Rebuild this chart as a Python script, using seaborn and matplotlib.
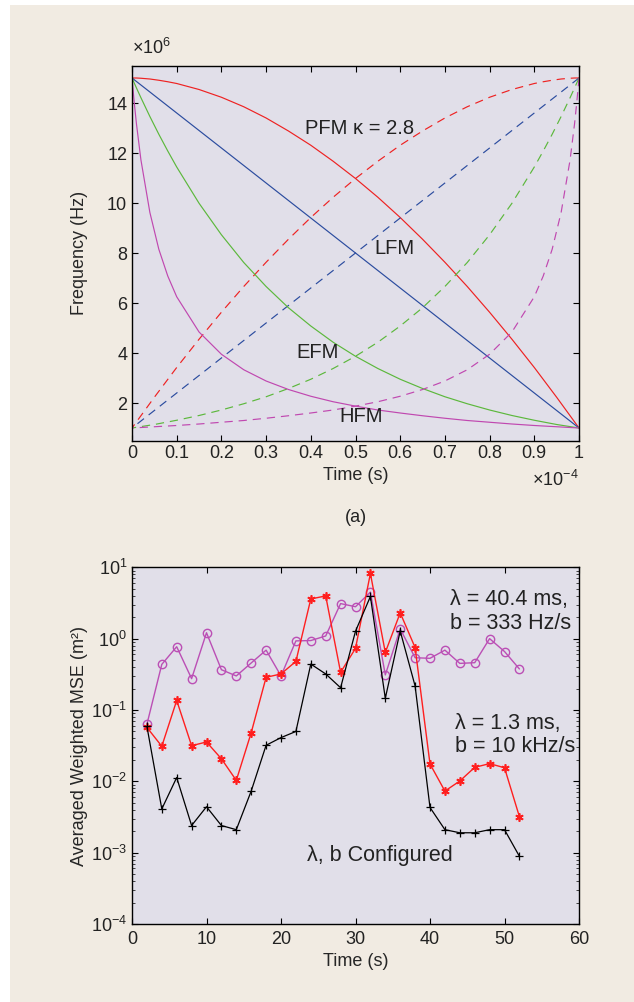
import matplotlib
matplotlib.use("Agg")
import matplotlib.pyplot as plt
import seaborn as sns
import pandas as pd
from matplotlib.patches import Rectangle
from matplotlib.ticker import LogLocator, NullFormatter

# ---------------- data: top panel (time in 1e-4 s, frequency in MHz) ----------------
t_grid = [0, 0.005, 0.01, 0.02, 0.04, 0.06, 0.08, 0.1, 0.15, 0.2, 0.25, 0.3, 0.35,
          0.4, 0.45, 0.5, 0.55, 0.6, 0.65, 0.7, 0.75, 0.8, 0.85, 0.9, 0.95, 1.0]
lfm = [15, 14.93, 14.86, 14.72, 14.44, 14.16, 13.88, 13.6, 12.9, 12.2, 11.5, 10.8, 10.1,
       9.4, 8.7, 8.0, 7.3, 6.6, 5.9, 5.2, 4.5, 3.8, 3.1, 2.4, 1.7, 1.0]
efm = [15, 14.80, 14.60, 14.21, 13.46, 12.75, 12.08, 11.44, 9.99, 8.73, 7.62, 6.66, 5.81,
       5.08, 4.43, 3.87, 3.38, 2.95, 2.58, 2.25, 1.97, 1.72, 1.50, 1.31, 1.14, 1.0]
hfm = [15, 14.02, 13.16, 11.72, 9.62, 8.15, 7.08, 6.25, 4.84, 3.95, 3.33, 2.88, 2.54,
       2.27, 2.05, 1.875, 1.72, 1.60, 1.49, 1.39, 1.30, 1.23, 1.16, 1.10, 1.05, 1.0]
pfm = [15, 15.0, 15.0, 14.99, 14.96, 14.91, 14.85, 14.78, 14.54, 14.23, 13.85, 13.40, 12.88,
       12.31, 11.67, 10.98, 10.23, 9.42, 8.55, 7.63, 6.66, 5.63, 4.55, 3.42, 2.23, 1.0]
t_up = [1 - t for t in t_grid]  # up-chirps are the time-reversed down-chirps

# ---------------- data: bottom panel ----------------
time_s = [2, 4, 6, 8, 10, 12, 14, 16, 18, 20, 22, 24, 26, 28, 30, 32, 34, 36, 38, 40,
          42, 44, 46, 48, 50, 52]
mse_404 = [0.063, 0.436, 0.77, 0.275, 1.21, 0.367, 0.30, 0.456, 0.69, 0.30, 0.93, 0.94,
           1.09, 3.1, 2.8, 4.5, 0.31, 1.37, 0.54, 0.53, 0.69, 0.45, 0.46, 1.0, 0.66, 0.376]
mse_13 = [0.057, 0.031, 0.136, 0.0316, 0.0356, 0.0207, 0.0103, 0.048, 0.287, 0.32, 0.48,
          3.6, 3.97, 0.337, 0.73, 8.2, 0.64, 2.3, 0.75, 0.0175, 0.0073, 0.0101, 0.0157,
          0.0177, 0.0155, 0.0032]
mse_cfg = [0.059, 0.0041, 0.0113, 0.0024, 0.0044, 0.0024, 0.0021, 0.0073, 0.032, 0.041,
           0.050, 0.44, 0.32, 0.205, 1.27, 3.9, 0.146, 1.28, 0.217, 0.0043, 0.0021, 0.0019,
           0.0019, 0.0021, 0.0021, 0.00089]

# ---------------- style ----------------
sns.set_style("ticks")
plt.rcParams.update({
    "font.family": ["Liberation Sans", "DejaVu Sans"],
    "font.size": 13,
    "mathtext.fontset": "custom",
    "mathtext.rm": "Liberation Sans",
    "mathtext.it": "Liberation Sans:italic",
    "axes.edgecolor": "black", "axes.linewidth": 1.0,
    "xtick.direction": "in", "ytick.direction": "in",
    "xtick.top": True, "ytick.right": True,
    "xtick.labelsize": 13, "ytick.labelsize": 13,
    "text.color": "#222222",
})

bg = "#f1ebe2"
face = "#e1dfe9"

fig = plt.figure(figsize=(6.34, 10.02), dpi=100)
fig.patch.set_facecolor("white")
fig.patches.append(Rectangle((10 / 634, 0), 1, 1 - 5 / 1002, transform=fig.transFigure,
                             facecolor=bg, edgecolor="none", zorder=-10))

ax1 = fig.add_axes([132 / 634, 1 - 440.5 / 1002, 447 / 634, 375 / 1002])
ax2 = fig.add_axes([132 / 634, 1 - 924 / 1002, 447 / 634, 356.7 / 1002])
for ax in (ax1, ax2):
    ax.set_facecolor(face)

# ---------------- top panel ----------------
curves = [(pfm, "#ee2222"), (lfm, "#2b4c9f"), (efm, "#5cb83c"), (hfm, "#c048b0")]
for vals, col in curves:
    sns.lineplot(x=t_grid, y=vals, color=col, linewidth=0.85, ax=ax1, sort=False)
    sns.lineplot(x=t_up, y=vals, color=col, linewidth=0.85, ax=ax1, sort=False,
                 dashes=False, linestyle=(0, (7, 5)))

ax1.set_xlim(0, 1)
ax1.set_ylim(0.5, 15.5)
ax1.set_xticks([0, 0.1, 0.2, 0.3, 0.4, 0.5, 0.6, 0.7, 0.8, 0.9, 1])
ax1.set_xticklabels(["0", "0.1", "0.2", "0.3", "0.4", "0.5", "0.6", "0.7", "0.8", "0.9", "1"])
ax1.set_yticks([2, 4, 6, 8, 10, 12, 14])
ax1.set_xlabel("Time (s)", labelpad=3)
ax1.set_ylabel("Frequency (Hz)", labelpad=14)
ax1.text(0, 1.02, r"$\times10^{6}$", transform=ax1.transAxes, ha="left", va="bottom")
ax1.text(1.0, -0.105, r"$\times10^{-4}$", transform=ax1.transAxes, ha="right", va="center")
ax1.text(0.5, -0.205, "(a)", transform=ax1.transAxes, ha="center", va="center")

ax1.text(0.386, 13.0, "PFM \u03ba = 2.8", ha="left", va="center", fontsize=14.5)
ax1.text(0.542, 8.2, "LFM", ha="left", va="center", fontsize=14.5)
ax1.text(0.368, 4.0, "EFM", ha="left", va="center", fontsize=14.5)
ax1.text(0.464, 1.45, "HFM", ha="left", va="center", fontsize=14.5)

# ---------------- bottom panel ----------------
df = pd.DataFrame({"t": time_s, "a": mse_404, "b": mse_13, "c": mse_cfg})
sns.lineplot(data=df, x="t", y="a", color="#bb4fb5", marker="o", markersize=6,
             markerfacecolor="none", markeredgecolor="#bb4fb5", markeredgewidth=1.0,
             linewidth=1.0, ax=ax2)
sns.lineplot(data=df, x="t", y="b", color="#ff1f1f", marker=(6, 2, 0), markersize=6,
             markeredgecolor="#ff1f1f", markeredgewidth=1.2, linewidth=1.0, ax=ax2)
sns.lineplot(data=df, x="t", y="c", color="black", marker="+", markersize=6,
             markeredgecolor="black", markeredgewidth=0.9, linewidth=0.9, ax=ax2)

ax2.set_yscale("log")
ax2.set_xlim(0, 60)
ax2.set_ylim(1e-4, 1e1)
ax2.set_xticks([0, 10, 20, 30, 40, 50, 60])
ax2.yaxis.set_major_locator(LogLocator(base=10, numticks=10))
ax2.yaxis.set_minor_locator(LogLocator(base=10, subs=range(2, 10), numticks=20))
ax2.yaxis.set_minor_formatter(NullFormatter())
ax2.set_xlabel("Time (s)", labelpad=4)
ax2.set_ylabel("Averaged Weighted MSE (m\u00b2)", labelpad=2)
ax2.tick_params(axis="x", pad=5)

ax2.text(42.7, 2.4, "\u03bb = 40.4 ms,\nb = 333 Hz/s", ha="left", va="center",
         linespacing=1.15, fontsize=15.5)
ax2.text(43.3, 0.045, "\u03bb = 1.3 ms,\nb = 10 kHz/s", ha="left", va="center",
         linespacing=1.15, fontsize=15.5)
ax2.text(23.5, 0.00091, "\u03bb, b Configured", ha="left", va="center", fontsize=15.5)

for ax in (ax1, ax2):
    ax.tick_params(which="major", length=4, width=0.8, colors="black", labelcolor="#222222")
    ax.tick_params(which="minor", length=2.5, width=0.6)

fig.savefig("out.png", dpi=100, facecolor=fig.get_facecolor())
